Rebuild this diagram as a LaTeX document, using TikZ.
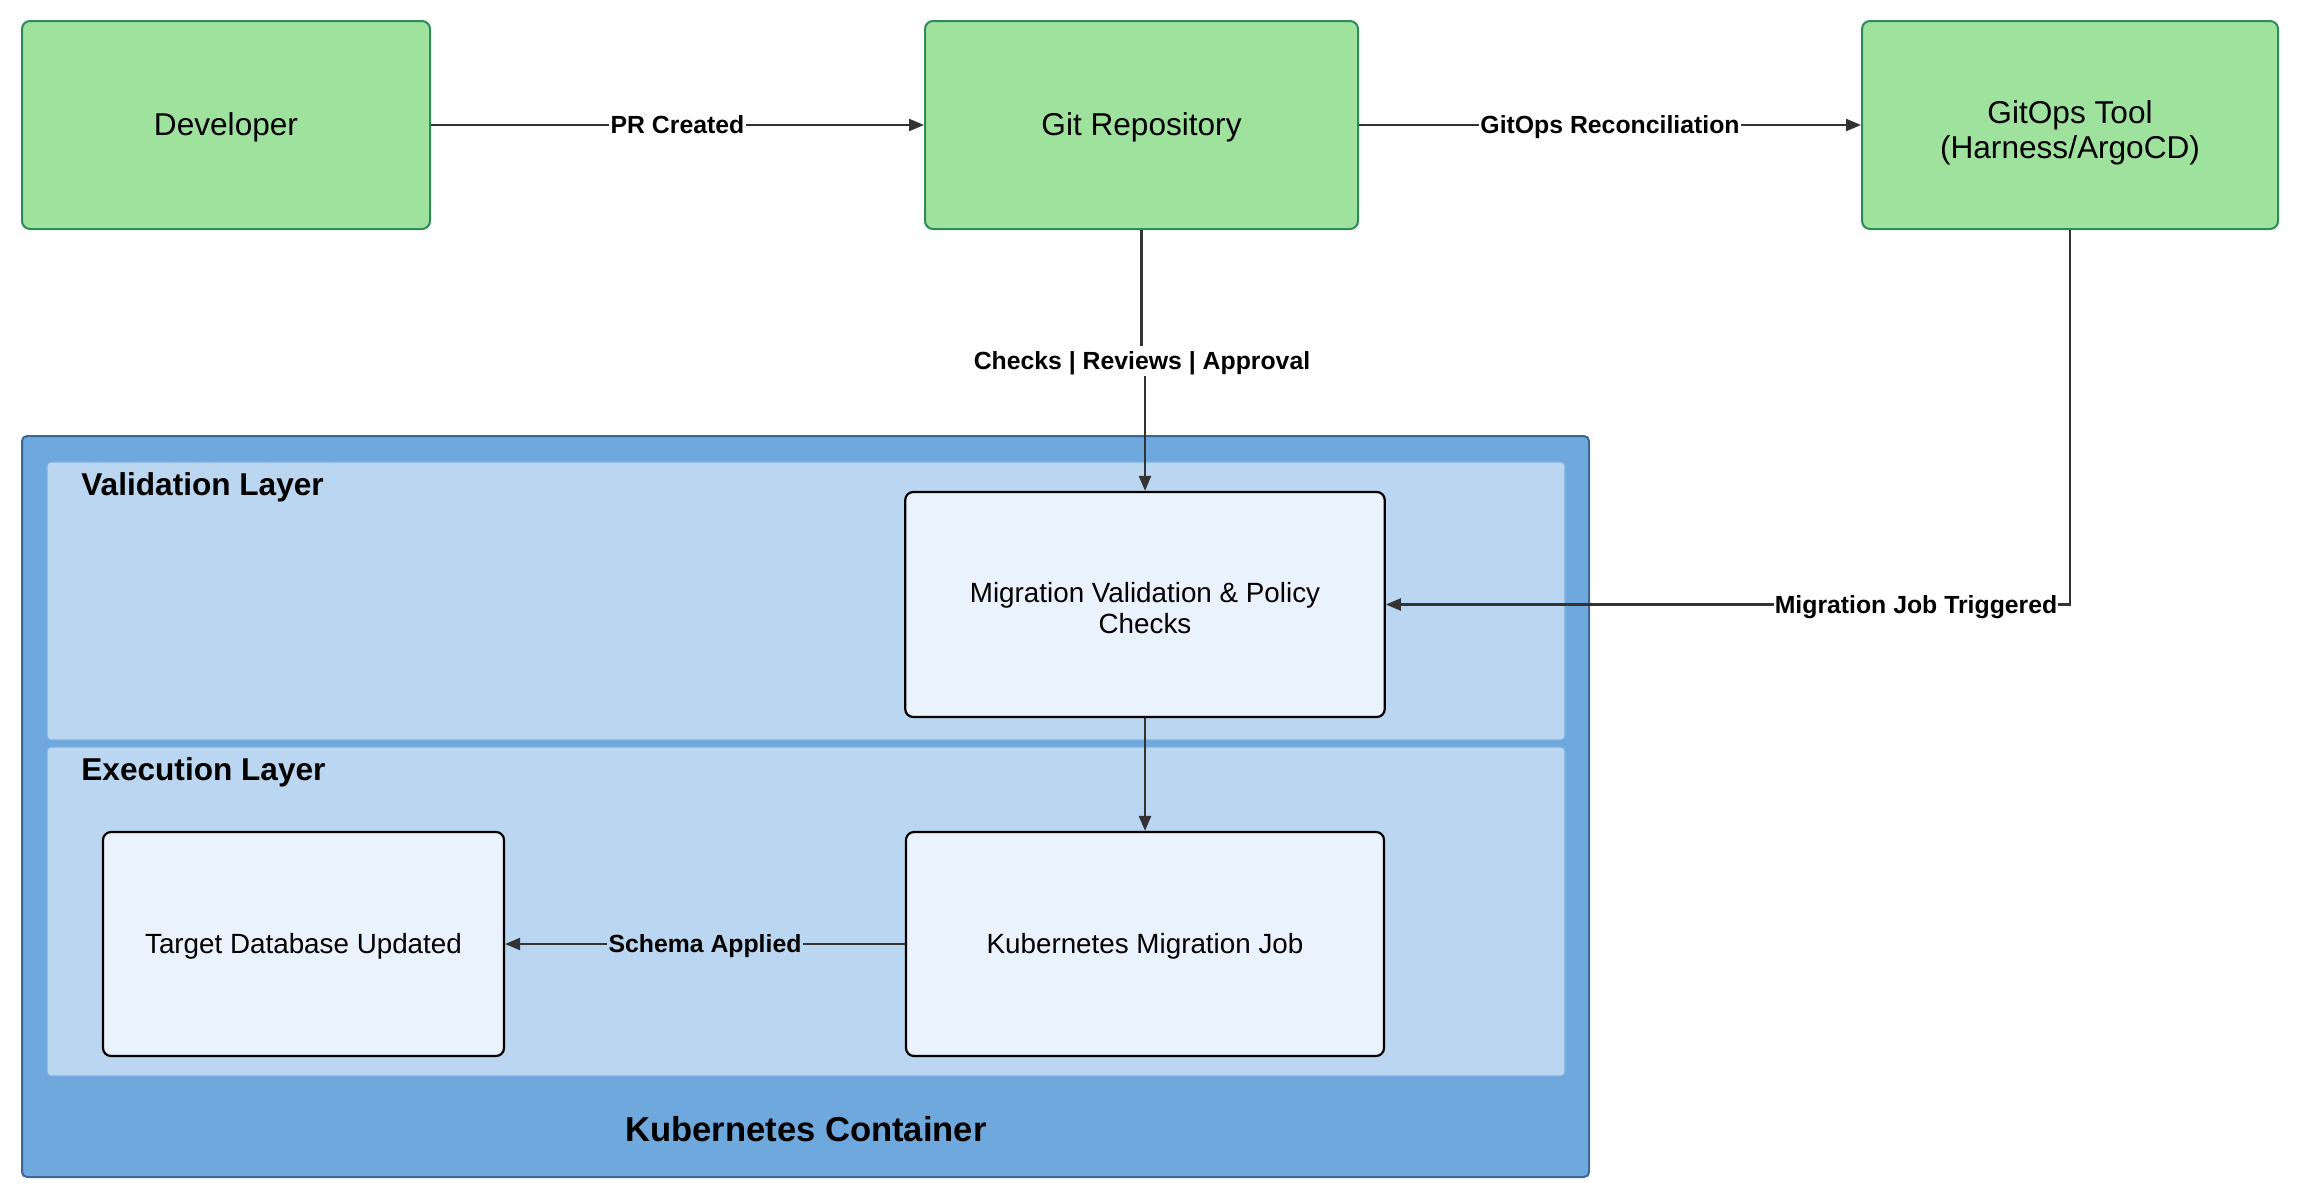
\documentclass[tikz,border=0pt]{standalone}
\usepackage{fontspec}
\setmainfont{Liberation Sans}
\usetikzlibrary{arrows.meta,positioning}
\definecolor{gfill}{HTML}{9EE29E}
\definecolor{gdraw}{HTML}{2E8B57}
\definecolor{cfill}{HTML}{6FA8DC}
\definecolor{cdraw}{HTML}{3B6894}
\definecolor{lfill}{HTML}{BBD6F0}
\definecolor{ldraw}{HTML}{7EB0E0}
\definecolor{bfill}{HTML}{EAF2FD}
\definecolor{acol}{HTML}{333333}
\newcommand\lstrut{\rule[-0.212em]{0pt}{1.117em}}
\newcommand\topstrut{\rule{0pt}{1.215em}}
\tikzset{
  txt/.style={execute at begin node=\lstrut, execute at end node=\lstrut},
  greenbox/.style={txt, draw=gdraw, fill=gfill, line width=1pt, rounded corners=4pt, align=center, inner sep=0pt, font=\fontsize{15.8pt}{17.7pt}\selectfont},
  whitebox/.style={txt, draw=black, fill=bfill, line width=1.1pt, rounded corners=4pt, align=center, inner sep=0pt, font=\fontsize{13.9pt}{15.5pt}\selectfont},
  container/.style={draw=cdraw, fill=cfill, line width=1pt, rounded corners=2.5pt, inner sep=0pt},
  layerbox/.style={draw=ldraw, fill=lfill, line width=0.6pt, rounded corners=2pt, inner sep=0pt},
  conn/.style={draw=acol, line width=1.1pt, -{Triangle[length=7.5pt,width=6pt]}},
  plain/.style={draw=acol, line width=1.1pt},
  elabel/.style={txt, font=\bfseries\fontsize{12.4pt}{14pt}\selectfont, fill=white, inner sep=0.6pt},
  titlelbl/.style={txt, font=\bfseries\fontsize{15.8pt}{18pt}\selectfont, inner sep=0pt},
}
\begin{document}
\begin{tikzpicture}[x=0.5pt,y=-0.5pt]
\useasboundingbox[fill=white] (0,0) rectangle (2300,1200);
% top row
\node[greenbox, minimum width=204pt, minimum height=104pt] (dev) at (226,125) {Developer};
\node[greenbox, minimum width=216.5pt, minimum height=104pt] (git) at (1141.5,125) {Git Repository};
\node[greenbox, minimum width=208pt, minimum height=104pt] (gitops) at (2070,125) {\topstrut GitOps Tool\\(Harness/ArgoCD)};
% container
\node[container, minimum width=783.5pt, minimum height=370.5pt] (k8s) at (805.5,806.5) {};
\node[layerbox, minimum width=759pt, minimum height=139pt] (val) at (806,601) {};
\node[layerbox, minimum width=759pt, minimum height=164.5pt] (exe) at (806,911.5) {};
\node[titlelbl, anchor=west] (valt) at (81,485) {Validation Layer};
\node[titlelbl, anchor=west] (exet) at (81,770) {Execution Layer};
\node[titlelbl, font=\bfseries\fontsize{17.3pt}{20pt}\selectfont] (k8st) at (806,1129) {Kubernetes Container};
% inner boxes
\node[whitebox, minimum width=239.75pt, minimum height=112.5pt] (mig) at (1145,604.5) {\topstrut Migration Validation \& Policy\\Checks};
\node[whitebox, minimum width=239pt, minimum height=112pt] (job) at (1145,944) {Kubernetes Migration Job};
\node[whitebox, minimum width=200.5pt, minimum height=112pt] (db) at (303.5,944) {Target Database Updated};
% connectors
\draw[conn] (dev) -- node[elabel] {PR Created} (git);
\draw[conn] (git) -- node[elabel] {GitOps Reconciliation} (gitops);
\coordinate (chk) at (1142,361);
\draw[plain] (git.south) -- (git.south |- chk);
\draw[conn] (mig.north |- chk) -- (mig.north);
\node[elabel] (chkl) at (chk) {Checks | Reviews | Approval};
\coordinate (turn) at (gitops.south |- mig.east);
\draw[conn] (gitops.south) -- (turn) -- (mig.east);
\node[elabel] (trig) at (1916,605) {Migration Job Triggered};
\draw[conn] (mig.south) -- (job.north);
\draw[conn] (job) -- node[elabel, fill=lfill] {Schema Applied} (db);
\end{tikzpicture}
\end{document}
